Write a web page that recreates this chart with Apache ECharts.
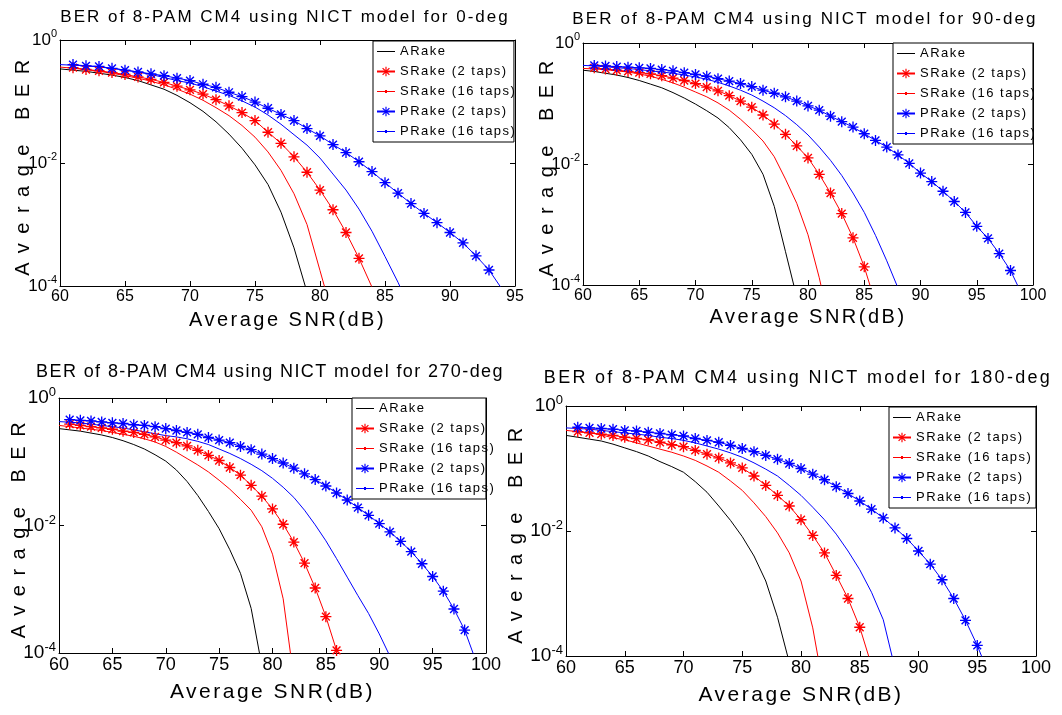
<!DOCTYPE html>
<html lang="en">
  <head>
    <meta charset="utf-8">
    <title>BER of 8-PAM CM4 using NICT model</title>
    <script src="https://cdn.jsdelivr.net/npm/echarts@6/dist/echarts.min.js"></script>
    <style>
      body { margin: 0; background: #fff; }
      #main { width: 1062px; height: 715px; }
    </style>
  </head>
  <body>
    <div id="main"></div>

    <script>
    // x grid, one point per dB
    var snr = [60, 61, 62, 63, 64, 65, 66, 67, 68, 69, 70, 71, 72, 73, 74, 75, 76, 77, 78, 79,
               80, 81, 82, 83, 84, 85, 86, 87, 88, 89, 90, 91, 92, 93, 94, 95, 96, 97, 98, 99, 100];

    // log10(BER), starting at 60 dB (null = no marker there)
    // 0-deg
    var ber0_arake   = [-0.47,-0.49,-0.51,-0.54,-0.57,-0.61,-0.66,-0.73,-0.80,-0.90,-1.02,-1.16,-1.33,-1.53,-1.76,-2.03,-2.35,-2.80,-3.38,-4.10];
    var ber0_srake2  = [null,-0.45,-0.48,-0.50,-0.53,-0.56,-0.60,-0.64,-0.69,-0.75,-0.81,-0.88,-0.97,-1.07,-1.18,-1.31,-1.50,-1.68,-1.90,-2.15,-2.44,-2.76,-3.13,-3.55,-4.02];
    var ber0_srake16 = [-0.44,-0.46,-0.48,-0.51,-0.54,-0.58,-0.62,-0.67,-0.73,-0.80,-0.88,-0.98,-1.10,-1.23,-1.39,-1.58,-1.82,-2.12,-2.50,-3.00,-3.75,-4.50];
    var ber0_prake2  = [null,-0.40,-0.42,-0.43,-0.46,-0.49,-0.52,-0.55,-0.58,-0.62,-0.66,-0.72,-0.77,-0.85,-0.92,-1.01,-1.11,-1.21,-1.31,-1.44,-1.56,-1.70,-1.83,-1.98,-2.14,-2.32,-2.49,-2.66,-2.82,-2.97,-3.13,-3.30,-3.51,-3.74,-4.05];
    var ber0_prake16 = [-0.40,-0.41,-0.42,-0.44,-0.46,-0.49,-0.52,-0.56,-0.61,-0.66,-0.70,-0.76,-0.83,-0.90,-0.99,-1.09,-1.22,-1.37,-1.54,-1.71,-1.92,-2.18,-2.44,-2.75,-3.11,-3.52,-3.94,-4.40];
    // 90-deg
    var ber90_arake   = [-0.45,-0.47,-0.50,-0.53,-0.57,-0.62,-0.68,-0.74,-0.82,-0.91,-1.01,-1.12,-1.24,-1.40,-1.60,-1.84,-2.17,-2.70,-3.45,-4.20];
    var ber90_srake2  = [null,-0.41,-0.43,-0.45,-0.47,-0.49,-0.51,-0.54,-0.58,-0.62,-0.67,-0.73,-0.79,-0.87,-0.96,-1.06,-1.19,-1.34,-1.51,-1.70,-1.90,-2.17,-2.48,-2.82,-3.22,-3.70,-4.30];
    var ber90_srake16 = [-0.42,-0.43,-0.44,-0.46,-0.48,-0.51,-0.55,-0.60,-0.66,-0.73,-0.81,-0.89,-0.99,-1.11,-1.26,-1.43,-1.62,-1.88,-2.25,-2.65,-3.17,-3.88,-4.70];
    var ber90_prake2  = [null,-0.37,-0.38,-0.39,-0.40,-0.41,-0.42,-0.44,-0.46,-0.49,-0.52,-0.55,-0.59,-0.63,-0.67,-0.72,-0.78,-0.83,-0.89,-0.96,-1.04,-1.11,-1.21,-1.30,-1.39,-1.50,-1.61,-1.72,-1.85,-1.99,-2.15,-2.29,-2.45,-2.62,-2.80,-3.03,-3.23,-3.48,-3.76,-4.15];
    var ber90_prake16 = [-0.37,-0.38,-0.39,-0.41,-0.42,-0.44,-0.46,-0.48,-0.50,-0.53,-0.56,-0.60,-0.65,-0.71,-0.78,-0.86,-0.96,-1.07,-1.20,-1.35,-1.52,-1.72,-1.94,-2.19,-2.48,-2.80,-3.18,-3.60,-4.05];
    // 270-deg
    var ber270_arake   = [-0.48,-0.50,-0.52,-0.55,-0.58,-0.62,-0.67,-0.73,-0.80,-0.89,-0.99,-1.13,-1.31,-1.53,-1.78,-2.05,-2.38,-2.75,-3.30,-4.20];
    var ber270_srake2  = [null,-0.41,-0.43,-0.45,-0.47,-0.49,-0.52,-0.54,-0.57,-0.61,-0.66,-0.70,-0.75,-0.82,-0.90,-0.98,-1.09,-1.21,-1.37,-1.54,-1.74,-1.98,-2.26,-2.59,-2.98,-3.43,-3.96];
    var ber270_srake16 = [-0.43,-0.45,-0.47,-0.49,-0.51,-0.54,-0.57,-0.60,-0.64,-0.69,-0.76,-0.85,-0.95,-1.05,-1.16,-1.29,-1.43,-1.59,-1.76,-2.02,-2.45,-3.15,-4.40];
    var ber270_prake2  = [null,-0.34,-0.35,-0.36,-0.375,-0.39,-0.40,-0.42,-0.43,-0.45,-0.48,-0.51,-0.54,-0.57,-0.62,-0.66,-0.70,-0.76,-0.81,-0.88,-0.95,-1.02,-1.10,-1.19,-1.28,-1.38,-1.49,-1.60,-1.72,-1.84,-1.97,-2.10,-2.25,-2.41,-2.60,-2.80,-3.03,-3.31,-3.64,-4.10];
    var ber270_prake16 = [-0.37,-0.38,-0.39,-0.41,-0.43,-0.45,-0.47,-0.50,-0.53,-0.56,-0.59,-0.61,-0.64,-0.68,-0.73,-0.80,-0.87,-0.95,-1.04,-1.14,-1.26,-1.40,-1.56,-1.76,-1.99,-2.24,-2.52,-2.81,-3.10,-3.38,-3.70,-4.05];
    // 180-deg
    var ber180_arake   = [-0.47,-0.50,-0.53,-0.56,-0.61,-0.67,-0.73,-0.80,-0.89,-0.97,-1.06,-1.21,-1.38,-1.60,-1.83,-2.09,-2.40,-2.80,-3.38,-4.10];
    var ber180_srake2  = [null,-0.41,-0.43,-0.45,-0.47,-0.50,-0.52,-0.54,-0.58,-0.62,-0.65,-0.71,-0.77,-0.83,-0.91,-0.99,-1.12,-1.27,-1.43,-1.60,-1.82,-2.07,-2.35,-2.71,-3.08,-3.54,-4.15];
    var ber180_srake16 = [-0.39,-0.41,-0.43,-0.46,-0.51,-0.54,-0.59,-0.64,-0.69,-0.74,-0.80,-0.87,-0.96,-1.06,-1.20,-1.35,-1.55,-1.77,-2.03,-2.35,-2.80,-3.55,-4.60];
    var ber180_prake2  = [null,-0.34,-0.35,-0.36,-0.37,-0.39,-0.40,-0.42,-0.44,-0.46,-0.48,-0.52,-0.55,-0.58,-0.63,-0.68,-0.73,-0.79,-0.85,-0.92,-1.00,-1.09,-1.18,-1.29,-1.40,-1.52,-1.65,-1.79,-1.95,-2.12,-2.32,-2.53,-2.78,-3.08,-3.43,-3.83,-4.30];
    var ber180_prake16 = [-0.35,-0.36,-0.37,-0.39,-0.41,-0.43,-0.45,-0.47,-0.50,-0.52,-0.55,-0.59,-0.64,-0.69,-0.75,-0.82,-0.91,-1.01,-1.12,-1.27,-1.43,-1.62,-1.82,-2.05,-2.32,-2.62,-2.98,-3.42,-4.20];

    var panelTitles = [
      'BER of 8-PAM CM4 using NICT model for 0-deg',
      'BER of 8-PAM CM4 using NICT model for 90-deg',
      'BER of 8-PAM CM4 using NICT model for 270-deg',
      'BER of 8-PAM CM4 using NICT model for 180-deg'
    ];
    var panelXMax = [95, 100, 100, 100];
    var seriesNames = ['ARake', 'SRake (2 taps)', 'SRake (16 taps)', 'PRake (2 taps)', 'PRake (16 taps)'];
    var curves = [
      [ber0_arake, ber0_srake2, ber0_srake16, ber0_prake2, ber0_prake16],
      [ber90_arake, ber90_srake2, ber90_srake16, ber90_prake2, ber90_prake16],
      [ber270_arake, ber270_srake2, ber270_srake16, ber270_prake2, ber270_prake16],
      [ber180_arake, ber180_srake2, ber180_srake16, ber180_prake2, ber180_prake16]
    ];

    // layout, in px
    var grids = [
      {left: 60, top: 40, width: 455, height: 246},
      {left: 583, top: 43, width: 450, height: 242},
      {left: 59, top: 398, width: 427, height: 255},
      {left: 566, top: 406, width: 470, height: 250}
    ];
    var titlePos = [[285, 9, 17], [805, 11, 17], [270, 363, 18], [798, 369, 18]];   // center x, top, size
    var legendPos = [[373, 41, 20], [893, 43, 19], [352, 398, 13], [889, 407, 26]];  // left, top, right pad
    var tickFont = [16, 16, 18, 18];
    var xNameGap = [24, 22, 29, 29];
    var xNameFont = [20, 20, 21, 21];
    var yNameGap = [27, 26, 30, 40];

    var FONT = "'Liberation Sans', Arial, sans-serif";
    // matlab '*' marker: + and x arms as thin filled bars
    var STAR = 'path://M8.8 0H11.2V20H8.8Z M0 8.8H20V11.2H0Z M3.8 2L18 16.2L16.2 18L2 3.8Z M18 3.8L3.8 18L2 16.2L16.2 2Z';
    var colors = ['#000000', '#ff0000', '#ff0000', '#0000ff', '#0000ff'];
    var symbols = ['none', STAR, 'none', STAR, 'none'];
    // legend icons for the plain lines (16 taps ones carry matlab's '.' marker)
    var legendIcons = ['path://M0 0H18V1H0Z', null, 'path://M0 5.5H18V6.5H0Z M8 4.5H10V7.5H8Z', null, 'path://M0 5.5H18V6.5H0Z M8 4.5H10V7.5H8Z'];

    // the figure text is spaced out; zrender has no letter-spacing option, so set it on the canvas
    var spacing = {
      'Average SNR(dB)': 2.5,
      'Average BER': 9.5,
      'ARake': 1.5, 'SRake (2 taps)': 1.5, 'SRake (16 taps)': 1.5, 'PRake (2 taps)': 1.5, 'PRake (16 taps)': 1.5
    };
    spacing[panelTitles[0]] = 2.0;
    spacing[panelTitles[1]] = 2.1;
    spacing[panelTitles[2]] = 1.4;
    spacing[panelTitles[3]] = 2.3;
    var origFillText = CanvasRenderingContext2D.prototype.fillText;
    CanvasRenderingContext2D.prototype.fillText = function (t, x, y, w) {
      var s = spacing[t];
      if (!s || !('letterSpacing' in this)) {
        return w === undefined ? origFillText.call(this, t, x, y) : origFillText.call(this, t, x, y, w);
      }
      this.save();
      this.letterSpacing = s + 'px';
      origFillText.call(this, t, x, y);
      this.restore();
    };

    var chart = echarts.init(document.getElementById('main'), null, {renderer: 'canvas'});

    var option = {
      animation: false,
      backgroundColor: '#ffffff',
      title: [], grid: [], xAxis: [], yAxis: [], legend: [], series: []
    };

    var black = {color: '#000000', width: 1};

    grids.forEach(function (g, p) {
      option.grid.push({left: g.left, top: g.top, width: g.width, height: g.height,
                        containLabel: false, outerBoundsMode: 'none'});

      option.title.push({
        text: panelTitles[p], left: titlePos[p][0], top: titlePos[p][1],
        textAlign: 'center', padding: 0,
        textStyle: {fontFamily: FONT, fontSize: titlePos[p][2], fontWeight: 'normal', color: '#000'}
      });

      var xBase = {
        gridIndex: p, type: 'value', min: 60, max: panelXMax[p], interval: 5,
        axisLine: {onZero: false, lineStyle: black},
        axisTick: {inside: true, length: 5, lineStyle: black},
        splitLine: {show: false}
      };
      option.xAxis.push(Object.assign({}, xBase, {
        position: 'bottom',
        axisLabel: {color: '#000', fontFamily: FONT, fontSize: tickFont[p], margin: 3},
        name: 'Average SNR(dB)', nameLocation: 'middle', nameGap: xNameGap[p], nameMoveOverlap: false,
        nameTextStyle: {color: '#000', fontFamily: FONT, fontSize: xNameFont[p]}
      }));
      option.xAxis.push(Object.assign({}, xBase, {position: 'top', axisLabel: {show: false}}));

      var yBase = {
        gridIndex: p, type: 'log', logBase: 10, min: 1e-4, max: 1, interval: 2,
        axisLine: {onZero: false, lineStyle: black},
        axisTick: {inside: true, length: 5, lineStyle: black},
        splitLine: {show: false}, minorTick: {show: false}
      };
      option.yAxis.push(Object.assign({}, yBase, {
        position: 'left',
        axisLabel: {
          margin: 3,
          formatter: function (v) { return '{b|10}{s|' + Math.round(Math.log10(v)) + '}'; },
          rich: {
            b: {fontFamily: FONT, fontSize: tickFont[p] + 1, lineHeight: 24, color: '#000'},
            s: {fontFamily: FONT, fontSize: tickFont[p] - 5, verticalAlign: 'top', color: '#000'}
          }
        },
        name: 'Average BER', nameLocation: 'middle', nameGap: yNameGap[p], nameRotate: 90,
        nameMoveOverlap: false,
        nameTextStyle: {color: '#000', fontFamily: FONT, fontSize: 20}
      }));
      option.yAxis.push(Object.assign({}, yBase, {position: 'right', axisLabel: {show: false}}));

      option.legend.push({
        orient: 'vertical', left: legendPos[p][0], top: legendPos[p][1],
        padding: [4, legendPos[p][2], 4, 3], itemGap: 7, itemWidth: 18, itemHeight: 12,
        backgroundColor: '#fff', borderColor: '#000', borderWidth: 1, borderRadius: 0,
        selectedMode: false,
        data: seriesNames.map(function (n, k) {
          return legendIcons[k] ? {name: n, icon: legendIcons[k]} : {name: n};
        }),
        textStyle: {fontFamily: FONT, fontSize: 13, color: '#000'}
      });

      curves[p].forEach(function (vals, k) {
        var pts = [];
        vals.forEach(function (e, i) {
          if (e != null) pts.push([snr[i], Math.pow(10, e)]);
        });
        option.series.push({
          name: seriesNames[k], type: 'line',
          xAxisIndex: p * 2, yAxisIndex: p * 2,
          data: pts, clip: true,
          symbol: symbols[k], symbolSize: 11, showSymbol: symbols[k] !== 'none',
          lineStyle: {color: colors[k], width: 1},
          itemStyle: {color: colors[k]},
          emphasis: {disabled: true}
        });
      });
    });

    chart.setOption(option);
    </script>
  </body>
</html>
